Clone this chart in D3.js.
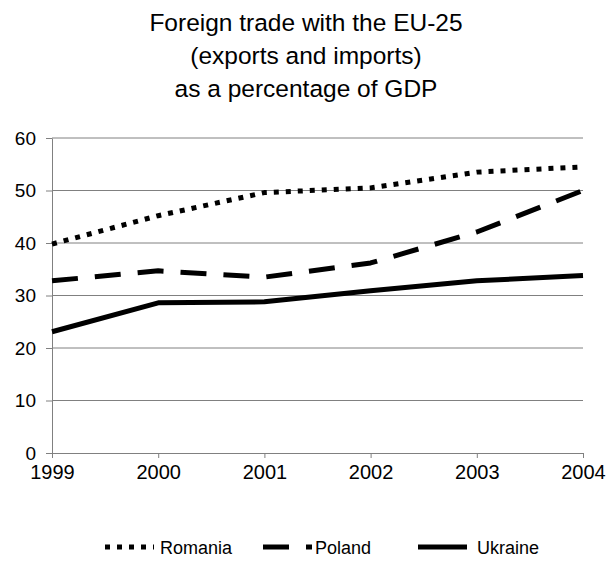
<!DOCTYPE html>
<html>
<head>
<meta charset="utf-8">
<script src="https://cdn.jsdelivr.net/npm/d3@7"></script>
<style>
  html, body { margin: 0; padding: 0; background: #fff; }
  svg { display: block; font-family: "Liberation Sans", Arial, sans-serif; }
</style>
</head>
<body>
<svg id="chart" width="608" height="561"></svg>
<script>
// Foreign trade with the EU-25 (exports + imports), % of GDP
const years = [1999, 2000, 2001, 2002, 2003, 2004];
const romania = [39.8, 45.2, 49.6, 50.5, 53.5, 54.5];
const poland  = [32.8, 34.7, 33.5, 36.2, 42.1, 50.0];
const ukraine = [23.1, 28.6, 28.8, 30.9, 32.8, 33.8];
const yTicks = [0, 10, 20, 30, 40, 50, 60];
const titleLines = ["Foreign trade with the EU-25", "(exports and imports)", "as a percentage of GDP"];

const series = [
  { name: "Romania", values: romania, dash: "5,7" },
  { name: "Poland",  values: poland,  dash: "26,17" },
  { name: "Ukraine", values: ukraine, dash: null }
];

const svg = d3.select("#chart");
const margin = { left: 52, right: 25, top: 138, bottom: 108 };
const W = 608;
const H = 561;

const x = d3.scalePoint().domain(years).range([margin.left, W - margin.right]);
const y = d3.scaleLinear().domain([0, 60]).range([H - margin.bottom, margin.top]);

// title, three centred lines
const title = svg.append("g").attr("font-size", 24.5).attr("fill", "#000").attr("text-anchor", "middle");
titleLines.forEach((t, i) => {
  title.append("text").attr("x", 306).attr("y", 31 + i * 33).text(t);
});

// horizontal gridlines
svg.append("g")
  .selectAll("line")
  .data(yTicks.filter(d => d > 0))
  .join("line")
  .attr("x1", margin.left).attr("x2", W - margin.right)
  .attr("y1", d => y(d)).attr("y2", d => y(d))
  .attr("stroke", "#808080").attr("stroke-width", 1);

// y axis
const yAxis = svg.append("g")
  .attr("transform", `translate(${margin.left},0)`)
  .call(d3.axisLeft(y).tickValues(yTicks).tickSize(6).tickPadding(10).tickSizeOuter(0));
yAxis.select(".domain").attr("stroke", "#808080");
yAxis.selectAll(".tick line").attr("stroke", "#808080");
yAxis.selectAll("text").attr("font-size", 19).attr("font-family", "Liberation Sans, Arial, sans-serif").attr("fill", "#000");

// x axis
const xAxis = svg.append("g")
  .attr("transform", `translate(0,${y(0)})`)
  .call(d3.axisBottom(x).tickSize(5).tickPadding(7).tickSizeOuter(0));
xAxis.select(".domain").attr("stroke", "#808080");
xAxis.selectAll(".tick line").attr("stroke", "#808080");
xAxis.selectAll("text").attr("font-size", 20).attr("font-family", "Liberation Sans, Arial, sans-serif").attr("fill", "#000");

// one black line per country, told apart by dash pattern
const line = d3.line().x((d, i) => x(years[i])).y(d => y(d));
svg.append("g")
  .selectAll("path")
  .data(series)
  .join("path")
  .attr("d", d => line(d.values))
  .attr("fill", "none")
  .attr("stroke", "#000")
  .attr("stroke-width", 5)
  .attr("stroke-linejoin", "round")
  .attr("stroke-dasharray", d => d.dash);

// legend along the bottom
const legendX = [105, 263, 418];
const legendTextDx = [55, 52, 59];
const legend = svg.append("g").attr("transform", "translate(0,547)");
series.forEach((s, i) => {
  const g = legend.append("g").attr("transform", `translate(${legendX[i]},0)`);
  g.append("line").attr("x1", 0).attr("x2", 49).attr("y1", 0).attr("y2", 0)
    .attr("stroke", "#000").attr("stroke-width", 5).attr("stroke-dasharray", s.dash);
  g.append("text").attr("x", legendTextDx[i]).attr("y", 6.5).attr("font-size", 18).text(s.name);
});
</script>
</body>
</html>
